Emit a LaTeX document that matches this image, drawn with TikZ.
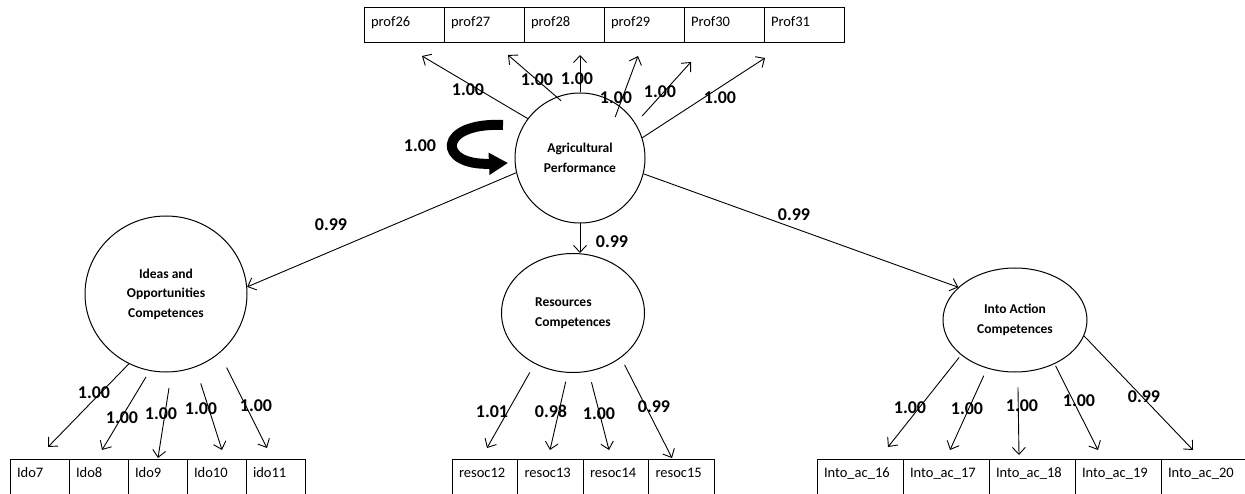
\documentclass[tikz,border=0pt]{standalone}
\usepackage{fontspec}
\setmainfont{Carlito}
\usetikzlibrary{shapes.geometric, positioning, arrows.meta}
\tikzset{
  latent/.style={ellipse, draw, line width=1pt, inner sep=0pt, align=center, font=\bfseries\fontsize{13.5}{19.5}\selectfont},
  obsbox/.style={rectangle, draw, line width=1pt, outer sep=0pt, inner xsep=7pt, inner ysep=0pt, text width=#1, align=left, anchor=north west, font=\fontsize{14.5}{17}\selectfont},
  toprow/.style={obsbox=66pt, text height=19pt, text depth=16pt},
  botrow/.style={obsbox=#1, text height=18pt, text depth=22pt},
  load/.style={inner sep=0pt, font=\bfseries\fontsize{18}{20}\selectfont},
  arrow/.style={line width=0.9pt, -{Straight Barb[length=7pt,width=13pt]}}
}

\begin{document}
\begin{tikzpicture}[x=1pt, y=-1pt]

  \useasboundingbox (0,0) rectangle (1245,494);

  % Indicadores (cajas)
  \foreach \i/\lab in {0/prof26, 1/prof27, 2/prof28, 3/prof29, 4/Prof30, 5/Prof31}
    \node[toprow] (\lab) at ({364+80*\i},8) {\lab};
  \foreach \i/\lab in {0/Ido7, 1/Ido8, 2/Ido9, 3/Ido10, 4/ido11}
    \node[botrow=45pt] (\lab) at ({10+59*\i},459) {\lab};
  \foreach \i/\lab in {0/resoc12, 1/resoc13, 2/resoc14, 3/resoc15}
    \node[botrow=51.5pt] (\lab) at ({452+65.5*\i},459) {\lab};
  \foreach \i/\num in {0/16, 1/17, 2/18, 3/19, 4/20}
    \node[botrow=72pt] (into\num) at ({817+86*\i},459) {Into\_ac\_\num};

  % Variables latentes
  \node[latent, minimum width=130pt, minimum height=130pt] (agri) at (580,158) {Agricultural\\Performance};
  \node[latent, minimum width=162pt, minimum height=156pt] (ideas) at (166,294) {Ideas and\\Opportunities\\Competences};
  \node[latent, minimum width=143pt, minimum height=119pt, align=left] (res) at (573,313) {Resources\\Competences};
  \node[latent, minimum width=144pt, minimum height=104pt] (act) at (1015,320) {Into Action\\Competences};

  % Puntas de flecha
  \coordinate (t26) at (422,56);  \coordinate (t27) at (508,55);  \coordinate (t28) at (580,55);
  \coordinate (t29) at (638,56);  \coordinate (t30) at (691,62);  \coordinate (t31) at (765,58);
  \coordinate (i7) at (48,447);   \coordinate (i8) at (102,450);  \coordinate (i9) at (158,458);
  \coordinate (i10) at (222,450); \coordinate (i11) at (267,448);
  \coordinate (r12) at (487,448); \coordinate (r13) at (550,450);
  \coordinate (r14) at (609,450); \coordinate (r15) at (672,458);
  \coordinate (a16) at (888,447); \coordinate (a17) at (950,450); \coordinate (a18) at (1019,455);
  \coordinate (a19) at (1098,450); \coordinate (a20) at (1193,450);

  % Cargas
  \foreach \a/\t/\s in {143/t26/0pt, 111/t27/-6pt, 90/t28/0pt, 53/t29/-12pt, 32/t30/10pt, 18/t31/0pt}
    \draw[arrow, shorten <=\s] (agri.\a) -- (\t);
  \foreach \a/\t/\s in {242/i7/0pt, 258/i8/7pt, 274/i9/16pt, 292/i10/17pt, 312/i11/16pt}
    \draw[arrow, shorten <=\s] (ideas.\a) -- (\t);
  \foreach \a/\t/\s in {233/r12/10pt, 265/r13/9pt, 285/r14/11pt, 317/r15/8pt}
    \draw[arrow, shorten <=\s] (res.\a) -- (\t);
  \foreach \a/\t/\s in {213/a16/3pt, 240/a17/8pt, 273/a18/15pt, 312/a19/2pt, 347/a20/0pt}
    \draw[arrow, shorten <=\s] (act.\a) -- (\t);

  % Caminos estructurales
  \draw[arrow] (agri.193) -- (ideas.5);
  \draw[arrow] (agri.south) -- (agri.south |- res.north);
  \draw[arrow] (agri.346) -- (act.150);

  % Varianza
  \coordinate (loopS) at (503,125);
  \coordinate (loopE) at (508,163);
  \draw[line width=10pt, -{Triangle[length=19pt,width=21pt]}] (loopS) .. controls (437,122) and (437,166) .. (loopE);

  % Valores
  \foreach \x/\y/\v [count=\n] in {
      468/90/1.00, 537/80/1.00, 577/79/1.00, 616/98/1.00, 660/92/1.00, 720/98/1.00,
      420/146/1.00, 331/225/0.99, 612/242/0.99, 794/215/0.99,
      94/393/1.00, 122/418/1.00, 161/414/1.00, 201/409/1.00, 256/406/1.00,
      492/412/1.01, 551/411/0.98, 599/414/1.00, 654/407/0.99,
      910/408/1.00, 967/409/1.00, 1022/406/1.00, 1079/401/1.00, 1144/397/0.99
  }
    \node[load] (v\n) at (\x,\y) {\v};

\end{tikzpicture}
\end{document}
